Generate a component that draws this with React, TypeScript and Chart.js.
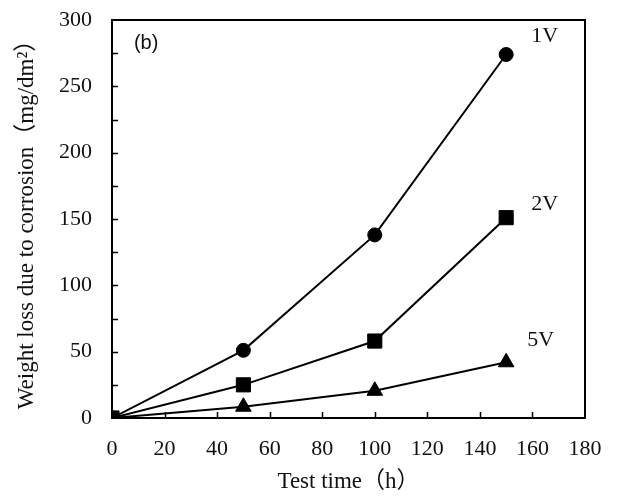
import React, { useEffect, useRef } from "react";
import { Chart, registerables } from "chart.js";

Chart.register(...registerables);

// ---- data ----
const testTimes = [0, 50, 100, 150];
const loss1V = [0, 51, 138, 274];
const loss2V = [0, 25, 58, 151];
const loss5V = [0, 8.5, 20.5, 42];

const xTickValues = [0, 20, 40, 60, 80, 100, 120, 140, 160, 180];
const yTickStep = 25;
const yLabelStep = 50;

const seriesNames = ["2V", "1V", "5V"];

// text annotations (data coordinates)
const noteTexts = ["1V", "2V", "5V", "(b)"];
const noteX = [159.5, 159.5, 158, 13];
const noteY = [288, 161, 59, 282];

const SERIF = "'Liberation Serif', 'Times New Roman', 'Noto Sans CJK SC', serif";

const framePlugin = {
  id: "frameAndNotes",
  beforeDatasetsDraw(chart: any) {
    const { ctx, chartArea, scales } = chart;
    const { left, right, top, bottom } = chartArea;
    const x = scales.x;
    const y = scales.y;
    ctx.save();
    ctx.strokeStyle = "#000";
    ctx.lineWidth = 2;
    ctx.strokeRect(left, top, right - left, bottom - top);
    ctx.lineWidth = 1.5;
    ctx.beginPath();
    y.ticks.forEach((t: any) => {
      if (t.value > y.min && t.value < y.max) {
        const py = Math.round(y.getPixelForValue(t.value)) + 0.5;
        ctx.moveTo(left, py);
        ctx.lineTo(left + 6, py);
      }
    });
    x.ticks.forEach((t: any) => {
      if (t.value > x.min && t.value < x.max) {
        const px = Math.round(x.getPixelForValue(t.value)) + 0.5;
        ctx.moveTo(px, bottom);
        ctx.lineTo(px, bottom - 6);
      }
    });
    ctx.stroke();
    ctx.restore();
  },
  afterDatasetsDraw(chart: any) {
    const { ctx, scales } = chart;
    ctx.save();
    ctx.fillStyle = "#111";
    ctx.textBaseline = "middle";
    noteTexts.forEach((txt, i) => {
      const px = scales.x.getPixelForValue(noteX[i]);
      const py = scales.y.getPixelForValue(noteY[i]);
      if (txt === "(b)") {
        ctx.font = "20px 'Liberation Sans', Arial, sans-serif";
        ctx.textAlign = "center";
      } else {
        ctx.font = "22px " + SERIF;
        ctx.textAlign = "left";
      }
      ctx.fillText(txt, px, py);
    });
    ctx.restore();
  },
};

export default function App() {
  const canvasRef = useRef<HTMLCanvasElement | null>(null);

  useEffect(() => {
    if (!canvasRef.current) return;
    const common = {
      borderColor: "#000",
      backgroundColor: "#000",
      pointBackgroundColor: "#000",
      pointBorderColor: "#000",
      borderWidth: 2,
      pointBorderWidth: 1,
      fill: false,
      tension: 0,
    };
    const chart = new Chart(canvasRef.current, {
      type: "line",
      data: {
        datasets: [
          {
            ...common,
            label: seriesNames[0],
            data: testTimes.map((t, i) => ({ x: t, y: loss2V[i] })),
            pointStyle: "rect",
            pointRadius: 10,
          },
          {
            ...common,
            label: seriesNames[1],
            data: testTimes.map((t, i) => ({ x: t, y: loss1V[i] })),
            pointStyle: "circle",
            pointRadius: 7,
          },
          {
            ...common,
            label: seriesNames[2],
            data: testTimes.map((t, i) => ({ x: t, y: loss5V[i] })),
            pointStyle: "triangle",
            pointRadius: 9,
          },
        ],
      },
      options: {
        responsive: false,
        animation: false,
        devicePixelRatio: 1,
        layout: { padding: { left: 0, top: 20, right: 34, bottom: 0 } },
        plugins: {
          legend: { display: false },
          tooltip: { enabled: false },
        },
        scales: {
          x: {
            type: "linear",
            min: xTickValues[0],
            max: xTickValues[xTickValues.length - 1],
            grid: { display: false, drawTicks: false },
            border: { display: false },
            afterBuildTicks: (scale: any) => {
              scale.ticks = xTickValues.map((v) => ({ value: v }));
            },
            afterFit: (scale: any) => {
              scale.height = 81;
              scale.paddingLeft = 0;
              scale.paddingRight = 0;
            },
            ticks: {
              padding: 18,
              color: "#111",
              font: { family: SERIF, size: 22 },
              maxRotation: 0,
              callback: (v: any) => String(v),
            },
            title: {
              display: true,
              text: "Test time（h）",
              color: "#111",
              font: { family: SERIF, size: 23 },
              padding: { top: 0, bottom: 3 },
            },
          },
          y: {
            type: "linear",
            min: 0,
            max: 300,
            grid: { display: false, drawTicks: false },
            border: { display: false },
            afterFit: (scale: any) => {
              scale.width = 112;
              scale.paddingTop = 0;
              scale.paddingBottom = 0;
            },
            ticks: {
              stepSize: yTickStep,
              padding: 20,
              color: "#111",
              font: { family: SERIF, size: 22 },
              callback: (v: any) => (Number(v) % yLabelStep === 0 ? String(v) : ""),
            },
            title: {
              display: true,
              text: "Weight loss due to corrosion（mg/dm²）",
              color: "#111",
              font: { family: SERIF, size: 23 },
              padding: { top: 13, bottom: 0 },
            },
          },
        },
      },
      plugins: [framePlugin],
    } as any);
    return () => chart.destroy();
  }, []);

  return (
    <div style={{ position: "absolute", left: 0, top: 0, width: 619, height: 499, background: "#fff" }}>
      <canvas ref={canvasRef} width={619} height={499} style={{ display: "block" }} />
    </div>
  );
}
